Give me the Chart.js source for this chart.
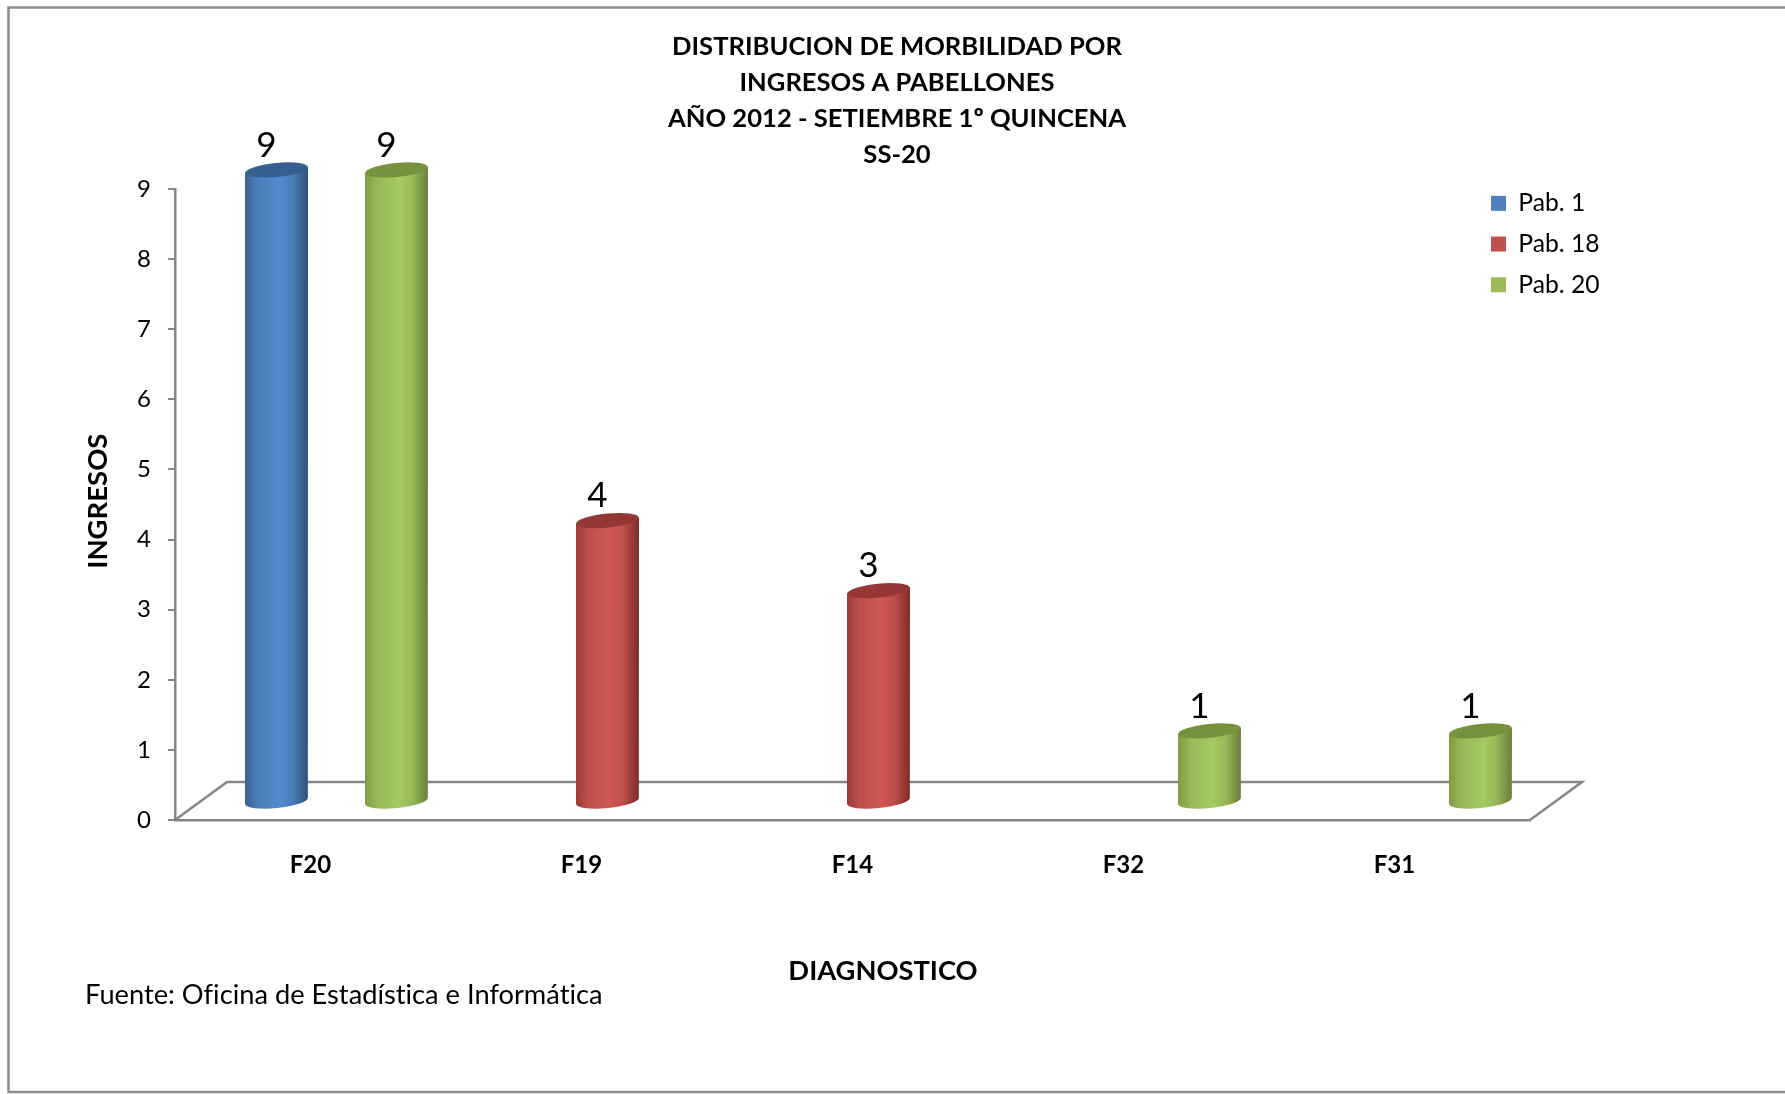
<!DOCTYPE html>
<html>
<head>
<meta charset="utf-8">
<title>Distribucion de morbilidad</title>
<script src="https://cdn.jsdelivr.net/npm/chart.js@4"></script>
<style>
    body { margin: 0; background: #fff; }
    canvas { display: block; }
</style>
</head>
<body>
<canvas id="morbilidadChart" width="1785" height="1094"></canvas>
<script>
const categories = ['F20', 'F19', 'F14', 'F32', 'F31'];
const pab1 = [9, null, null, null, null];
const pab18 = [null, 4, 3, null, null];
const pab20 = [9, null, null, 1, 1];
const yTicks = [0, 1, 2, 3, 4, 5, 6, 7, 8, 9];

const titleLines = [
    'DISTRIBUCION DE MORBILIDAD POR',
    'INGRESOS A PABELLONES',
    'AÑO 2012 - SETIEMBRE 1º QUINCENA',
    'SS-20'
];

const FONT = 'Lato';
const AXIS_GREY = '#868686';
// depth of the fake 3D floor
const DEPTH_X = 52;
const DEPTH_Y = 38;

// left edge, shoulder, middle, right edge, top cap
const cylinderColors = {
    'Pab. 1': ['#38648f', '#4a7db9', '#5389d0', '#2e5279', '#376092'],
    'Pab. 18': ['#9a3b39', '#be4f4c', '#d15653', '#7f2b29', '#953735'],
    'Pab. 20': ['#7f9c45', '#97b957', '#a5c963', '#697f3a', '#76923c']
};

function drawCylinder(ctx, el, colors) {
    const x = el.x + DEPTH_X / 2;
    const top = el.y - DEPTH_Y / 2;
    const base = el.base - DEPTH_Y / 2 + 1;
    const rx = el.width / 2;
    const ry = 7;
    const tilt = -0.1;
    const lift = Math.sin(tilt) * rx;

    const grad = ctx.createLinearGradient(x - rx, 0, x + rx, 0);
    grad.addColorStop(0, colors[0]);
    grad.addColorStop(0.2, colors[1]);
    grad.addColorStop(0.55, colors[2]);
    grad.addColorStop(0.75, colors[1]);
    grad.addColorStop(1, colors[3]);

    ctx.beginPath();
    ctx.moveTo(x - rx, top - lift);
    ctx.lineTo(x - rx, base - lift);
    ctx.ellipse(x, base, rx, ry, tilt, Math.PI, 0, true);
    ctx.lineTo(x + rx, top + lift);
    ctx.closePath();
    ctx.fillStyle = grad;
    ctx.fill();

    ctx.beginPath();
    ctx.ellipse(x, top, rx, ry, tilt, 0, Math.PI * 2);
    ctx.fillStyle = colors[4];
    ctx.fill();
}

const cylinderPlugin = {
    id: 'cylinders',
    afterLayout(chart) {
        // title and legend sit off the plot centre in the original
        const t = chart.titleBlock;
        t.left = 0;
        t.right = 1794;
        const l = chart.legend;
        l.left = 1475;
        l.right = 1660;
        l.top = 175;
        l.bottom = 430;
    },
    beforeDraw(chart) {
        const ctx = chart.ctx;
        ctx.save();
        ctx.strokeStyle = '#8c8c8c';
        ctx.lineWidth = 2.5;
        ctx.strokeRect(8.5, 7.5, 1800, 1084.5);
        ctx.restore();
    },
    beforeDatasetsDraw(chart) {
        const { ctx, chartArea: a } = chart;
        ctx.save();
        ctx.strokeStyle = AXIS_GREY;
        ctx.lineWidth = 2.5;
        ctx.beginPath();
        ctx.moveTo(a.left, a.bottom);
        ctx.lineTo(a.left + DEPTH_X, a.bottom - DEPTH_Y);
        ctx.lineTo(a.right + DEPTH_X, a.bottom - DEPTH_Y);
        ctx.lineTo(a.right, a.bottom);
        ctx.stroke();
        ctx.restore();
    },
    beforeDatasetDraw(chart, args) {
        const ctx = chart.ctx;
        const colors = cylinderColors[args.meta.label];
        ctx.save();
        args.meta.data.forEach((el, i) => {
            if (chart.data.datasets[args.index].data[i] !== null) {
                drawCylinder(ctx, el, colors);
            }
        });
        ctx.restore();
        return false;
    },
    afterDatasetsDraw(chart) {
        const ctx = chart.ctx;
        ctx.save();
        ctx.fillStyle = '#000';
        ctx.textAlign = 'center';
        ctx.textBaseline = 'middle';
        ctx.font = '35px ' + FONT;
        chart.data.datasets.forEach((ds, d) => {
            chart.getDatasetMeta(d).data.forEach((el, i) => {
                if (ds.data[i] !== null) {
                    ctx.fillText(ds.data[i], el.x + DEPTH_X / 2 - 10, el.y - DEPTH_Y / 2 - 24.5);
                }
            });
        });
        ctx.font = 'bold 27.3px ' + FONT;
        ctx.fillText('DIAGNOSTICO', 883, 971);
        ctx.textAlign = 'left';
        // no "ti" ligature in the original
        ctx.textRendering = 'optimizeSpeed';
        ctx.font = '27.25px ' + FONT;
        ctx.fillText('Fuente: Oficina de Estadística e Informática', 85, 995);
        ctx.restore();
    }
};

new Chart(document.getElementById('morbilidadChart'), {
    type: 'bar',
    data: {
        labels: categories,
        datasets: [
            { label: 'Pab. 1', data: pab1, backgroundColor: '#4f81bd' },
            { label: 'Pab. 18', data: pab18, backgroundColor: '#c0504d' },
            { label: 'Pab. 20', data: pab20, backgroundColor: '#9bbb59' }
        ]
    },
    options: {
        responsive: false,
        animation: false,
        categoryPercentage: 0.664,
        barPercentage: 1.05,
        layout: { padding: { left: 0, top: 0, right: 255, bottom: 0 } },
        scales: {
            x: {
                afterFit(scale) { scale.height = 274; },
                grid: { display: false },
                border: { color: AXIS_GREY, width: 2.5 },
                ticks: { color: '#000', padding: 23, font: { family: FONT, size: 24, weight: 'bold' } }
            },
            y: {
                min: 0,
                max: 9,
                afterFit(scale) { scale.width = 175; },
                afterBuildTicks(scale) { scale.ticks = yTicks.map(v => ({ value: v })); },
                grid: { drawOnChartArea: false, color: AXIS_GREY, lineWidth: 2, tickLength: 7 },
                border: { color: AXIS_GREY, width: 2.5 },
                ticks: { color: '#000', padding: 17, font: { family: FONT, size: 24 } },
                title: {
                    display: true,
                    // leading space nudges the rotated title up a little
                    text: ' INGRESOS',
                    color: '#000',
                    padding: { top: 82, bottom: 0 },
                    font: { family: FONT, size: 27.5, weight: 'bold' }
                }
            }
        },
        plugins: {
            tooltip: { enabled: false },
            title: {
                display: true,
                text: titleLines,
                color: '#000',
                padding: { top: 28.5, bottom: 16.5 },
                font: { family: FONT, size: 25.6, weight: 'bold', lineHeight: 1.406 }
            },
            legend: {
                position: 'chartArea',
                align: 'start',
                labels: {
                    color: '#000',
                    boxWidth: 15,
                    boxHeight: 15,
                    padding: 16,
                    font: { family: FONT, size: 24.7 }
                }
            }
        }
    },
    plugins: [cylinderPlugin]
});
</script>
</body>
</html>
